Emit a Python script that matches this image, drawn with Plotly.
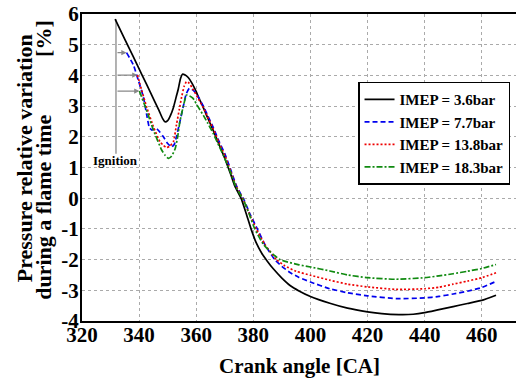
import plotly.graph_objects as go

# ---- data ----
black_x = [331.6, 335, 338, 341, 344, 347, 348.2, 349.05, 350, 351, 352, 353, 353.7, 354.5, 355.2, 356, 357.2, 358.5, 359.6, 361, 362.5, 364, 366, 368, 370, 372, 373.5, 375.7, 377.5, 379.2, 381, 383, 384.9, 387, 390, 393, 396, 400, 406.8, 413, 420, 425, 431, 436, 440, 445, 450, 455, 460, 465]
black_y = [5.83, 5.17, 4.6, 4.02, 3.44, 2.85, 2.6, 2.49, 2.53, 2.7, 2.95, 3.3, 3.55, 3.9, 4.04, 4.02, 3.93, 3.75, 3.55, 3.25, 2.95, 2.62, 2.2, 1.75, 1.3, 0.8, 0.4, 0.0, -0.5, -1.0, -1.45, -1.8, -2.05, -2.3, -2.6, -2.85, -3.02, -3.2, -3.42, -3.58, -3.7, -3.76, -3.79, -3.78, -3.73, -3.63, -3.53, -3.43, -3.33, -3.16]

blue_x = [335.6, 338, 339.7, 341.5, 342.6, 343.6, 344.5, 346.1, 347.3, 348.5, 350, 351.4, 352.3, 353.2, 354.3, 355.5, 356.5, 357.6, 358.5, 359.6, 361, 362.5, 364, 366, 368, 370, 372, 374.1, 376.7, 379, 381.4, 384, 387.5, 390, 393, 396, 400, 406.8, 413, 420, 430, 440, 445, 450, 455, 460, 465]
blue_y = [4.74, 4.34, 3.85, 3.3, 2.75, 2.3, 2.22, 2.27, 2.15, 2.0, 1.78, 1.67, 1.75, 2.05, 2.5, 3.0, 3.4, 3.58, 3.55, 3.45, 3.25, 3.0, 2.7, 2.3, 1.85, 1.45, 0.95, 0.4, -0.05, -0.55, -1.0, -1.5, -2.0, -2.22, -2.43, -2.58, -2.73, -2.95, -3.08, -3.18, -3.27, -3.25, -3.2, -3.12, -3.03, -2.91, -2.71]

red_x = [339.4, 340.9, 342.6, 345, 347.3, 348.5, 349.6, 350.8, 352, 353.1, 354.1, 354.9, 355.8, 356.6, 357.5, 358.9, 360.5, 362.5, 364, 366, 368, 370, 372, 374, 376.5, 378.8, 381, 384, 388.1, 391, 395, 400, 406.8, 413, 420, 430, 440, 445, 450, 455, 460, 465]
red_y = [4.01, 3.52, 2.98, 2.33, 1.84, 1.72, 1.65, 1.7, 1.84, 2.4, 2.9, 3.3, 3.65, 3.8, 3.75, 3.55, 3.28, 2.95, 2.65, 2.25, 1.8, 1.4, 0.9, 0.4, -0.05, -0.55, -1.0, -1.5, -2.0, -2.2, -2.38, -2.51, -2.67, -2.8, -2.89, -2.97, -2.95, -2.9, -2.8, -2.7, -2.59, -2.43]

green_x = [340.1, 342.6, 345, 347.9, 349.1, 350.2, 351.2, 352.6, 353.5, 354.3, 355.5, 356.6, 357.7, 358.9, 360.5, 362.5, 364, 366, 368, 370, 372, 374, 376.5, 378.5, 380.5, 383.5, 386, 389.3, 392, 396, 400, 406.8, 413, 420, 430, 440, 445, 450, 455, 460, 465]
green_y = [3.49, 2.87, 2.22, 1.57, 1.4, 1.3, 1.35, 1.6, 2.0, 2.5, 3.0, 3.36, 3.33, 3.25, 3.0, 2.7, 2.45, 2.1, 1.7, 1.3, 0.85, 0.35, -0.05, -0.5, -1.0, -1.5, -1.75, -2.0, -2.08, -2.17, -2.24, -2.37, -2.5, -2.59, -2.64, -2.59, -2.53, -2.46, -2.38, -2.29, -2.16]

series_names = ["IMEP = 3.6bar", "IMEP = 7.7bar", "IMEP = 13.8bar", "IMEP = 18.3bar"]
x_ticks = [320, 340, 360, 380, 400, 420, 440, 460]
y_ticks = [-4, -3, -2, -1, 0, 1, 2, 3, 4, 5, 6]

# ignition marker and arrow targets (start of each curve)
ign_x = 331.9
arrow_targets = [(blue_x[0], blue_y[0]), (red_x[0], red_y[0]), (green_x[0], green_y[0])]

SERIF = "Liberation Serif"

fig = go.Figure()
styles = [("black", "solid"), ("#0000ee", "5px,3px"), ("#ee0000", "2px,2px"), ("#108a10", "6px,2px,2px,2px")]
for (xs, ys), name, (col, dash) in zip(
        [(black_x, black_y), (blue_x, blue_y), (red_x, red_y), (green_x, green_y)],
        series_names, styles):
    fig.add_trace(go.Scatter(x=xs, y=ys, mode="lines", name="<b>" + name + "</b>",
                             line=dict(color=col, dash=dash, width=1.7, shape="spline", smoothing=0.5)))

# ignition vertical line
fig.add_shape(type="line", x0=ign_x, x1=ign_x, y0=black_y[0], y1=1.45, xref="x", yref="y",
              line=dict(color="#999999", width=1.5), layer="below")
for tx, ty in arrow_targets:
    fig.add_annotation(x=tx, y=ty, ax=ign_x, ay=ty, xref="x", yref="y", axref="x", ayref="y",
                       showarrow=True, arrowhead=2, arrowsize=0.8, arrowwidth=1.3,
                       arrowcolor="#888888", text="")
fig.add_annotation(x=ign_x, y=1.22, xref="x", yref="y", text="<b>Ignition</b>", showarrow=False,
                   font=dict(family=SERIF, size=13, color="black"))

# y-axis title pieces
ytitle_font = dict(family=SERIF, size=22, color="black")
fig.add_annotation(x=-0.1336, y=0.530, xref="paper", yref="paper", textangle=-90,
                   text="<b>Pressure relative variation</b>", showarrow=False, font=ytitle_font,
                   xanchor="center", yanchor="middle")
fig.add_annotation(x=-0.0876, y=0.372, xref="paper", yref="paper", textangle=-90,
                   text="<b>during a flame time</b>", showarrow=False, font=ytitle_font,
                   xanchor="center", yanchor="middle")
fig.add_annotation(x=-0.0876, y=0.922, xref="paper", yref="paper", textangle=-90,
                   text="<b>[%]</b>", showarrow=False, font=ytitle_font,
                   xanchor="center", yanchor="middle")

# x-axis title
fig.add_annotation(x=0.5, y=-0.146, xref="paper", yref="paper",
                   text="<b>Crank angle [CA]</b>", showarrow=False,
                   font=dict(family=SERIF, size=21, color="black"),
                   xanchor="center", yanchor="middle")

fig.update_layout(
    width=516, height=378,
    margin=dict(l=82, r=0, t=14, b=57, autoexpand=False),
    paper_bgcolor="white", plot_bgcolor="white",
    font=dict(family=SERIF, color="black"),
    showlegend=True,
    legend=dict(x=0.636, y=0.78, xanchor="left", yanchor="top",
                bgcolor="white", bordercolor="black", borderwidth=1.5,
                font=dict(family=SERIF, size=15, color="black"),
                itemwidth=30, tracegroupgap=0),
    xaxis=dict(range=[320, 472], tickvals=x_ticks, ticktext=[f"<b>{v}</b>" for v in x_ticks],
               showgrid=True, gridcolor="#aaaaaa", griddash="dot", gridwidth=1,
               showline=True, linecolor="black", linewidth=2, mirror=True,
               ticks="", ticklen=0, ticklabelstandoff=-6, zeroline=False, automargin=False,
               tickfont=dict(family=SERIF, size=21, color="black")),
    yaxis=dict(range=[-4, 6], tickvals=y_ticks, ticktext=[f"<b>{v}</b>" for v in y_ticks],
               showgrid=True, gridcolor="#aaaaaa", griddash="dot", gridwidth=1,
               showline=True, linecolor="black", linewidth=2, mirror=False,
               ticks="", ticklen=0, ticklabelstandoff=-3, zeroline=False, automargin=False,
               tickfont=dict(family=SERIF, size=21, color="black")),
)

fig.write_html("out.html", config={"displayModeBar": False},
               post_script="document.body.style.margin='0';")
